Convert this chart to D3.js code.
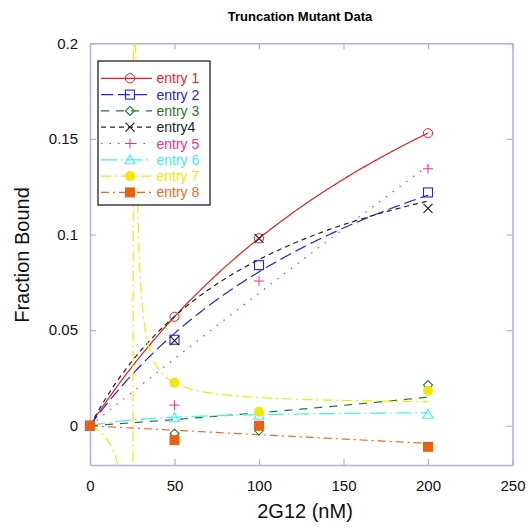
<!DOCTYPE html>
<html><head><meta charset="utf-8">
<script src="https://cdn.jsdelivr.net/npm/d3@7"></script>
<style>
html,body{margin:0;padding:0;background:#fff;}
svg{display:block;font-family:"Liberation Sans",Arial,sans-serif;}
</style></head>
<body>
<svg id="chart" width="528" height="529"></svg>
<script>
// ---- data ----
const concentrations = [0, 50, 100, 200];
const seriesNames = ["entry 1","entry 2","entry 3","entry4","entry 5","entry 6","entry 7","entry 8"];
const entry1 = [0, 0.057, 0.098, 0.153];
const entry2 = [0, 0.045, 0.084, 0.122];
const entry3 = [0, -0.004, -0.0025, 0.0213];
const entry4 = [0, 0.0445, 0.098, 0.1137];
const entry5 = [0, 0.0108, 0.0757, 0.1344];
const entry6 = [0, 0.0042, 0.0055, 0.006];
const entry7 = [0, 0.0225, 0.0073, 0.0183];
const entry8 = [0, -0.0075, 0.0, -0.011];
// hyperbolic fit parameters (Bmax, Kd) estimated from the drawn fit curves
const fitBmax = [0.349, 0.2404, -0.075, 0.1811, 3.536, 0.0082, 0.011, -0.469];
const fitKd   = [256, 198.7, -1200, 108.3, 5000, 41, -25.5, 10000];
const xTicks = [0, 50, 100, 150, 200, 250];
const yTicks = [0, 0.05, 0.1, 0.15, 0.2];
const yTickLabels = ["0", "0.05", "0.1", "0.15", "0.2"];

const allValues = [entry1, entry2, entry3, entry4, entry5, entry6, entry7, entry8];
const colors = ["#f01c1c","#2323e6","#1e7a2a","#222222","#ff2a8c","#3ef0f0","#f5e800","#f26a1c"];
const markerFill = ["none","none","none","none","none","none","#f5e800","#ec5f0e"];
const dashes = [null, "12,5", "8,7", "5,4", "1.5,7", "16,4,1.5,4", "10,4,2,4", "8,4,2,4"];
const shapes = ["circle","square","diamond","x","plus","triangle","dot","fsquare"];

const svg = d3.select("#chart");
const x = d3.scaleLinear().domain([0, 250]).range([90, 512.5]);
const y = d3.scaleLinear().domain([-0.0205, 0.2]).range([465, 43.3]);
const frameColor = "#aeaef2";

// clip
svg.append("clipPath").attr("id","plotclip").append("rect")
  .attr("x", x(0)).attr("y", y(0.2)).attr("width", x(250)-x(0)).attr("height", y(-0.0205)-y(0.2));

// axes
const fmtY = d => yTickLabels[yTicks.indexOf(d)];
const gB = svg.append("g").attr("transform",`translate(0,${y(-0.0205)})`)
  .call(d3.axisBottom(x).tickValues(xTicks).tickSizeInner(-6).tickSizeOuter(0).tickPadding(15));
const gL = svg.append("g").attr("transform",`translate(${x(0)},0)`)
  .call(d3.axisLeft(y).tickValues(yTicks).tickFormat(fmtY).tickSizeInner(-6).tickSizeOuter(0).tickPadding(12));
const gT = svg.append("g").attr("transform",`translate(0,${y(0.2)})`)
  .call(d3.axisTop(x).tickValues(xTicks).tickFormat("").tickSizeInner(-6).tickSizeOuter(0));
const gR = svg.append("g").attr("transform",`translate(${x(250)},0)`)
  .call(d3.axisRight(y).tickValues(yTicks).tickFormat("").tickSizeInner(-6).tickSizeOuter(0));
[gB,gL,gT,gR].forEach(g => {
  g.selectAll("path.domain").attr("stroke", frameColor).attr("stroke-width", 1.5);
  g.selectAll(".tick line").attr("stroke", frameColor).attr("stroke-width", 1.2);
  g.selectAll(".tick text").attr("fill","#111").style("font-size","15px")
   .style("font-family","'Liberation Sans',Arial,sans-serif");
});

// fit curves
const plot = svg.append("g").attr("clip-path","url(#plotclip)");
const line = d3.line().x(d => x(d[0])).y(d => y(Math.max(-1, Math.min(1, d[1]))));
const xs = d3.range(0, 201, 1);
allValues.forEach((vals, i) => {
  const pts = xs.map(c => [c, fitBmax[i] * c / (fitKd[i] + c)]);
  plot.append("path").attr("d", line(pts))
    .attr("fill","none").attr("stroke", colors[i]).attr("stroke-width", 1.2)
    .attr("stroke-dasharray", dashes[i]);
});

function marker(g, shape, cx, cy, i) {
  const c = colors[i];
  const s = 4.5;
  if (shape === "circle") g.append("circle").attr("cx",cx).attr("cy",cy).attr("r",4.6).attr("fill","none").attr("stroke",c).attr("stroke-width",1);
  else if (shape === "square") g.append("rect").attr("x",cx-s).attr("y",cy-s).attr("width",2*s).attr("height",2*s).attr("fill","none").attr("stroke",c).attr("stroke-width",1.1);
  else if (shape === "diamond") g.append("path").attr("d",`M${cx},${cy-4.5}L${cx+4.5},${cy}L${cx},${cy+4.5}L${cx-4.5},${cy}Z`).attr("fill","none").attr("stroke",c).attr("stroke-width",1.1);
  else if (shape === "x") g.append("path").attr("d",`M${cx-4.5},${cy-4.5}L${cx+4.5},${cy+4.5}M${cx-4.5},${cy+4.5}L${cx+4.5},${cy-4.5}`).attr("stroke",c).attr("stroke-width",1.2);
  else if (shape === "plus") g.append("path").attr("d",`M${cx-5},${cy}L${cx+5},${cy}M${cx},${cy-5}L${cx},${cy+5}`).attr("stroke",c).attr("stroke-width",1);
  else if (shape === "triangle") g.append("path").attr("d",`M${cx},${cy-5}L${cx+5},${cy+4}L${cx-5},${cy+4}Z`).attr("fill","none").attr("stroke",c).attr("stroke-width",1.1);
  else if (shape === "dot") g.append("circle").attr("cx",cx).attr("cy",cy).attr("r",5).attr("fill",markerFill[i]);
  else if (shape === "fsquare") g.append("rect").attr("x",cx-5).attr("y",cy-5).attr("width",10).attr("height",10).attr("fill",markerFill[i]);
}

// markers
const mk = svg.append("g");
allValues.forEach((vals, i) => {
  vals.forEach((v, j) => marker(mk, shapes[i], x(concentrations[j]), y(v), i));
});

// legend
const lg = svg.append("g");
lg.append("rect").attr("x",98).attr("y",61).attr("width",112).attr("height",144)
  .attr("fill","#fff").attr("stroke","#222").attr("stroke-width",1.3);
seriesNames.forEach((name, i) => {
  const ly = 78.3 + i * 16.3;
  lg.append("line").attr("x1",101).attr("x2",152).attr("y1",ly).attr("y2",ly)
    .attr("stroke",colors[i]).attr("stroke-width",1.2).attr("stroke-dasharray",dashes[i]);
  marker(lg, shapes[i], 130, ly, i);
  lg.append("text").attr("x",156.5).attr("y",ly+5).text(name)
    .attr("fill",colors[i]).style("font-size","14px");
});

// titles
svg.append("text").attr("x",300).attr("y",21).attr("text-anchor","middle")
  .style("font-size","13px").style("font-weight","bold").text("Truncation Mutant Data");
svg.append("text").attr("x",305).attr("y",518).attr("text-anchor","middle")
  .style("font-size","20px").attr("fill","#111").text("2G12 (nM)");
svg.append("text").attr("transform","translate(29,255) rotate(-90)").attr("text-anchor","middle")
  .style("font-size","20px").attr("fill","#111").text("Fraction Bound");
</script>
</body></html>
